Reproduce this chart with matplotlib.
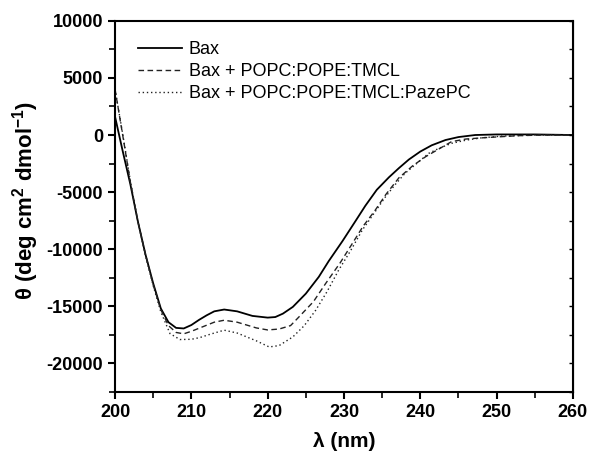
import numpy as np
import matplotlib
matplotlib.use("Agg")
import matplotlib.pyplot as plt
from matplotlib import rcParams
from matplotlib.ticker import MultipleLocator

rcParams['font.family'] = 'Liberation Sans'
rcParams['font.size'] = 13
rcParams['axes.unicode_minus'] = False

# CD spectra
# ====================================================== #
wl_bax = [200, 201, 202, 203, 204, 205, 206, 207, 208, 209, 210, 211, 212, 213, 214.3,
          216, 218, 220, 221, 222, 223.3, 225, 226.7, 228, 229.8, 231.5, 232.8,
          234.3, 235.9, 237.2, 238.5, 240, 241.5, 243.3, 245, 247.2, 250, 255, 260]
theta_bax = [1600, -1400, -4300, -7600, -10500, -13000, -15200, -16400, -16900, -16950,
             -16650, -16200, -15800, -15450, -15290, -15450, -15850, -16000, -15950,
             -15650, -15060, -13900, -12430, -11050, -9300, -7550, -6200, -4800,
             -3700, -2900, -2150, -1450, -900, -440, -180, 0, 50, 50, 0]

wl_lip = [200, 201, 202, 203, 204, 205, 206, 207, 208, 209, 210, 211.5, 213, 214.3,
          216, 218.5, 220, 221.5, 223, 224.1, 226, 227.6, 229.5, 231.1, 232.5, 234.1,
          235.5, 237.2, 239, 240.7, 242.5, 244.1, 246, 248.5, 252.8, 256, 260]
theta_lip = [4000, 0, -4100, -7600, -10500, -13100, -15300, -16700, -17300, -17420,
             -17200, -16800, -16400, -16230, -16400, -16900, -17080, -17000, -16700,
             -15940, -14600, -13010, -11200, -9500, -8000, -6580, -5200, -3750, -2700,
             -1900, -1200, -580, -350, -230, -60, 0, 0]

wl_paz = [200, 201, 202, 203, 204, 205, 206, 207.2, 208.5, 210, 211.1, 212.5, 214.3,
          216, 218.5, 220.2, 221.5, 223.3, 224.8, 226.3, 227.8, 229.3, 230.9, 232.4,
          234, 235.4, 236.7, 238, 239.8, 241.1, 242.5, 244.1, 246, 248, 250.6, 255, 260]
theta_paz = [4000, 100, -4000, -7600, -10600, -13200, -15500, -17400, -17920, -17900,
             -17750, -17450, -17100, -17350, -18030, -18570, -18450, -17690, -16700,
             -15350, -13700, -11840, -10100, -8330, -6800, -5450, -4350, -3360, -2340,
             -1610, -1150, -730, -450, -250, -100, 0, 0]

labels = ["Bax", "Bax + POPC:POPE:TMCL", "Bax + POPC:POPE:TMCL:PazePC"]
# ====================================================== #

fig = plt.figure(figsize=(5.9, 4.54), dpi=100)
ax = fig.add_axes([0.195, 0.137, 0.776, 0.817])

ax.plot(wl_bax, theta_bax, color='black', lw=1.3, ls='-', label=labels[0])
ax.plot(wl_lip, theta_lip, color='#222222', lw=1.0, ls=(0, (4, 2.5)), label=labels[1])
ax.plot(wl_paz, theta_paz, color='#222222', lw=1.0, ls=(0, (1, 2)), label=labels[2])

ax.set_xlim(200, 260)
ax.set_ylim(-22500, 10000)
ax.xaxis.set_major_locator(MultipleLocator(10))
ax.xaxis.set_minor_locator(MultipleLocator(5))
ax.yaxis.set_major_locator(MultipleLocator(5000))
ax.yaxis.set_minor_locator(MultipleLocator(2500))

for s in ax.spines.values():
    s.set_linewidth(1.5)
ax.tick_params(which='major', direction='out', length=5, width=1.5, labelsize=13)
ax.tick_params(which='minor', direction='out', length=4, width=1.2)
for lab in ax.get_xticklabels() + ax.get_yticklabels():
    lab.set_fontweight('bold')

# inward ticks on the right spine
axr = ax.secondary_yaxis('right')
axr.yaxis.set_major_locator(MultipleLocator(5000))
axr.yaxis.set_minor_locator(MultipleLocator(2500))
axr.tick_params(which='both', direction='in', length=3, width=1.0, labelright=False)

ax.set_xlabel("λ (nm)", fontsize=15, fontweight='bold', labelpad=8)
ax.set_ylabel("θ (deg cm$^\\mathregular{2}$ dmol$^\\mathregular{-1}$)", fontsize=16,
              fontweight='bold', labelpad=4, y=0.515)

ax.legend(loc='upper left', frameon=False, handlelength=2.4, handletextpad=0.4,
          labelspacing=0.28, borderaxespad=0.0, fontsize=13,
          bbox_to_anchor=(0.035, 0.965))

fig.savefig("out.png", dpi=100)
